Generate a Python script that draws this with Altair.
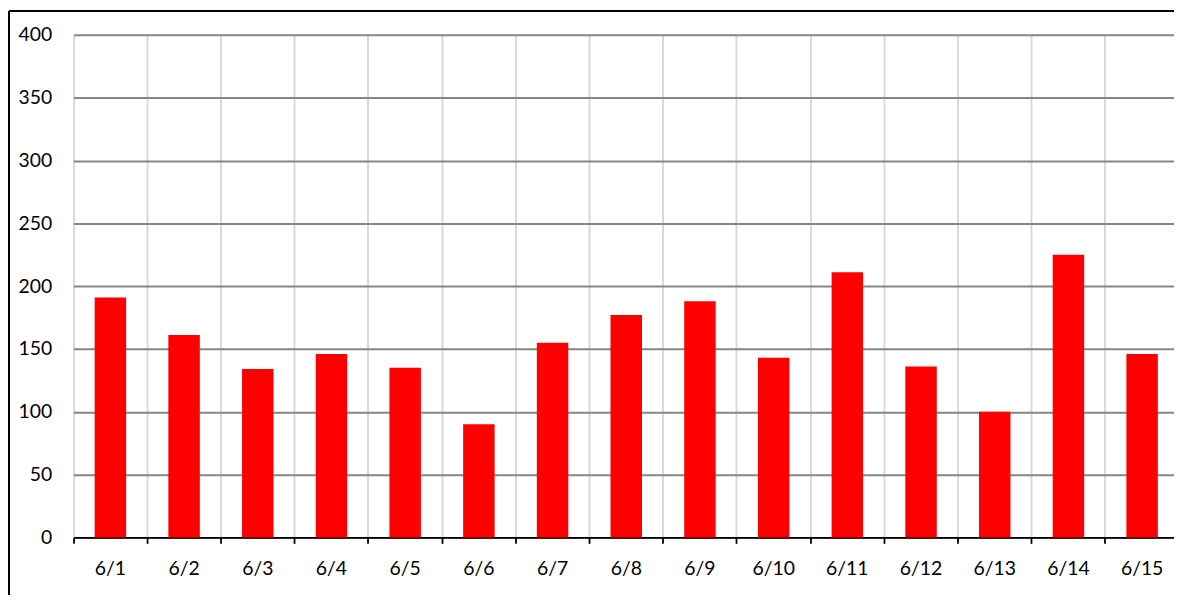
import altair as alt
import pandas as pd

days = ["6/1", "6/2", "6/3", "6/4", "6/5", "6/6", "6/7", "6/8",
        "6/9", "6/10", "6/11", "6/12", "6/13", "6/14", "6/15"]
values = [191, 161, 134, 146, 135, 90, 155, 177, 188, 143, 211, 136, 100, 225, 146]
y_ticks = [0, 50, 100, 150, 200, 250, 300, 350, 400]

df = pd.DataFrame({"day": days, "value": values})

FONT = "Lato"
FS = 19.5

bars = alt.Chart(df).mark_bar(color="#ff0000", width=alt.RelativeBandSize(0.427)).encode(
    x=alt.X("day:N", sort=days,
            scale=alt.Scale(paddingInner=0, paddingOuter=0),
            axis=alt.Axis(title=None, labelAngle=0, bandPosition=0,
                          grid=True, gridColor="#d9d9d9", gridWidth=2,
                          domain=True, domainColor="#000000", domainWidth=1.8,
                          ticks=True, tickColor="#000000", tickWidth=1.8, tickSize=6,
                          labelPadding=16, labelFont=FONT, labelFontSize=FS,
                          labelColor="#000000", labelBound=False, labelFlush=False,
                          labelOverlap=False)),
    y=alt.Y("value:Q",
            scale=alt.Scale(domain=[0, 400], nice=False, zero=True),
            axis=alt.Axis(title=None, values=y_ticks, grid=True, gridColor="#868686",
                          gridWidth=2, domain=False, ticks=False, labelPadding=22,
                          labelFont=FONT, labelFontSize=FS, labelColor="#000000")),
)

frame_df = pd.DataFrame({"a": [0]})
frame_left = alt.Chart(frame_df).mark_rule(color="#000000", strokeWidth=2).encode(
    x=alt.value(-65), y=alt.value(-24), y2=alt.value(700),
)
frame_top = alt.Chart(frame_df).mark_rule(color="#000000", strokeWidth=2).encode(
    y=alt.value(-24), x=alt.value(-65), x2=alt.value(1300),
)

chart = alt.layer(bars, frame_left, frame_top).properties(
    width=1113, height=506,
    autosize=alt.AutoSizeParams(type="none"),
    padding={"left": 66, "top": 25, "right": -5, "bottom": 56},
).configure_view(stroke=None).configure(background="#ffffff")

chart.save("out.html", embed_options={"renderer": "svg", "actions": False})
